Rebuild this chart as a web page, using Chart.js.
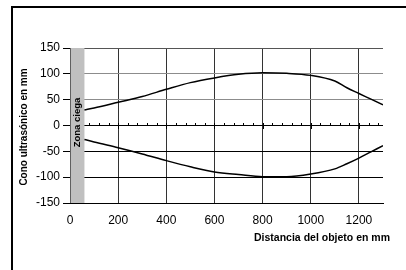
<!DOCTYPE html>
<html>
<head>
<meta charset="utf-8">
<script src="https://cdn.jsdelivr.net/npm/chart.js@4/dist/chart.umd.min.js"></script>
<style>
html,body{margin:0;padding:0;background:#fff;}
#wrap{width:406px;height:270px;}
</style>
</head>
<body>
<div id="wrap"><canvas id="c" width="406" height="270"></canvas></div>
<script>
const distances = [60,100,200,300,400,500,600,700,800,900,1000,1100,1150,1200,1250,1300];
const upperCone = [30,34,45,56,70,83,92,99,102,101,97,86,73,62,51,40];
const lowerCone = [-27,-32,-43,-55,-68,-80,-90,-95,-99,-99,-94,-84,-74,-63,-51,-39];
const xTickValues = [0,200,400,600,800,1000,1200];
const blindZone = [0, 60];
const blindLabel = 'Zona ciega';
const xTitle = 'Distancia del objeto en mm';
const yTitle = 'Cono ultrasónico en mm';
const minorStep = 40;

const FONT = '"Liberation Sans", Arial, sans-serif';

const overlay = {
  id: 'overlay',
  beforeDatasetsDraw(chart) {
    const {ctx, chartArea, scales:{x, y}} = chart;
    ctx.save();
    const x0 = x.getPixelForValue(blindZone[0]) + 0.5;
    const x1 = x.getPixelForValue(blindZone[1]);
    ctx.fillStyle = '#c0c0c0';
    ctx.fillRect(x0, chartArea.top, x1 - x0, chartArea.bottom - chartArea.top);
    // minor ticks on zero line
    const y0 = Math.round(y.getPixelForValue(0));
    ctx.strokeStyle = '#000';
    ctx.lineWidth = 1;
    ctx.beginPath();
    for (let v = minorStep; v < x.max; v += minorStep) {
      if (v <= blindZone[1]) continue;
      const px = Math.round(x.getPixelForValue(v)) + 0.5;
      const major = v % 200 === 0;
      ctx.moveTo(px, y0 - 3);
      ctx.lineTo(px, y0 + (major ? 3 : 0));
    }
    ctx.stroke();
    ctx.translate((x0 + x1) / 2, y.getPixelForValue(0) - 3);
    ctx.rotate(-Math.PI / 2);
    ctx.fillStyle = '#000';
    ctx.font = 'bold 9.5px ' + FONT;
    ctx.textAlign = 'center';
    ctx.textBaseline = 'middle';
    ctx.fillText(blindLabel, 0, 0);
    ctx.restore();
  },
  afterDraw(chart) {
    const {ctx} = chart;
    ctx.save();
    ctx.fillStyle = '#000';
    ctx.textAlign = 'center';
    ctx.textBaseline = 'middle';
    ctx.font = 'bold 10.5px ' + FONT;
    ctx.fillText(xTitle, 322, 238);
    ctx.save();
    ctx.font = 'bold 10px ' + FONT;
    ctx.translate(24, 127);
    ctx.rotate(-Math.PI / 2);
    ctx.fillText(yTitle, 0, 0);
    ctx.restore();
    ctx.strokeStyle = '#000';
    ctx.lineWidth = 2;
    ctx.beginPath();
    ctx.moveTo(12, 270); ctx.lineTo(12, 7); ctx.lineTo(406, 7);
    ctx.stroke();
    ctx.restore();
  }
};

new Chart(document.getElementById('c'), {
  type: 'line',
  data: {
    datasets: [
      { data: distances.map((d, i) => ({x: d, y: upperCone[i]})) },
      { data: distances.map((d, i) => ({x: d, y: lowerCone[i]})) }
    ]
  },
  options: {
    responsive: false,
    animation: false,
    devicePixelRatio: 1,
    layout: { padding: { left: 0, top: 48, right: 23, bottom: 0 } },
    plugins: { legend: { display: false }, tooltip: { enabled: false } },
    elements: {
      line: { borderColor: '#000', borderWidth: 1.5, cubicInterpolationMode: 'monotone', fill: false },
      point: { radius: 0 }
    },
    scales: {
      x: {
        type: 'linear', min: 0, max: 1300,
        afterFit(s) { s.height = 67; },
        afterBuildTicks(s) { s.ticks = xTickValues.map(v => ({value: v})); },
        ticks: { autoSkip: false, color: '#000', font: { family: FONT, size: 12 }, padding: 10, maxRotation: 0,
                 callback: (v) => String(v) },
        grid: { color: '#333', drawTicks: false },
        border: { color: '#000', width: 1 }
      },
      y: {
        min: -150, max: 150,
        afterFit(s) { s.width = 70; },
        ticks: { stepSize: 50, color: '#000', font: { family: FONT, size: 12 }, padding: 3 },
        grid: {
          color: (c) => {
            const v = c.tick ? c.tick.value : 0;
            if (v === 100 || v === 50) return '#8c8c8c';
            if (v === 150) return '#555';
            return '#000';
          },
          tickColor: '#000', tickLength: 7
        },
        border: { color: '#000', width: 1 }
      }
    }
  },
  plugins: [overlay]
});
</script>
</body>
</html>
